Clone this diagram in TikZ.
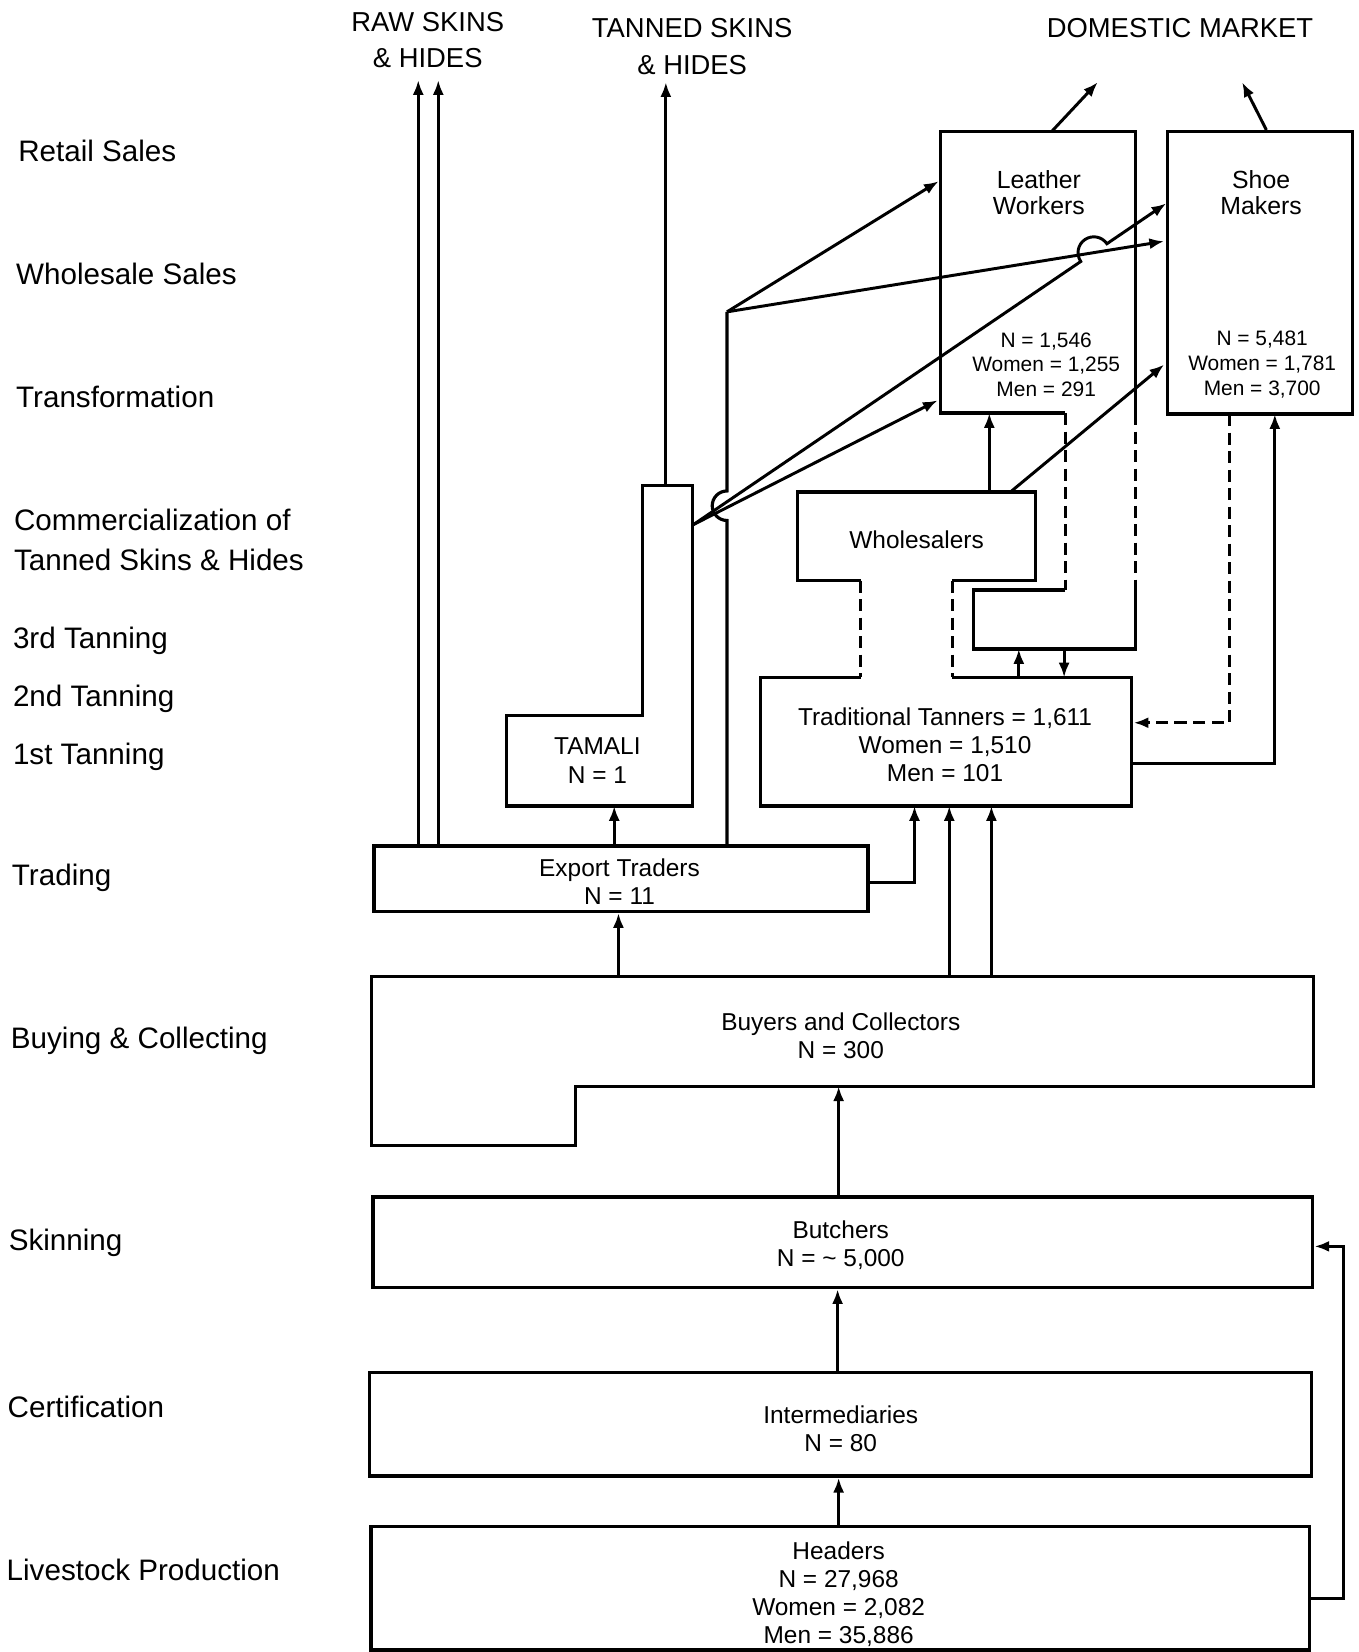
\documentclass[tikz,border=0pt]{standalone}
\usepackage{fontspec}
\setmainfont{Liberation Sans}
\usetikzlibrary{arrows.meta,fit,calc}
\begin{document}
\begin{tikzpicture}[x=0.02cm,y=-0.02cm,
  box/.style={draw, line width=1.8pt, inner sep=0pt},
  ln/.style={line width=1.7pt},
  arr/.style={line width=1.6pt, -{Latex[length=8pt,width=6pt]}},
  dsh/.style={line width=1.6pt, dash pattern=on 6.5pt off 3.5pt},
  lab/.style={anchor=west, font=\fontsize{16}{19}\selectfont, inner sep=0pt},
  toplab/.style={align=center, font=\fontsize{14.8}{19.8}\selectfont, inner sep=0pt},
  txt/.style={align=center, font=\fontsize{13.2}{15.3}\selectfont, inner sep=0pt},
  sm/.style={align=center, font=\fontsize{11.3}{13.3}\selectfont, inner sep=0pt}]
\useasboundingbox (0,0) rectangle (1289,1568);

% ---------- stage labels ----------
\node[lab] (s1) at (17,143) {Retail Sales};
\node[lab] (s2) at (15,260) {Wholesale Sales};
\node[lab] (s3) at (15,377) {Transformation};
\node[lab] (s4) at (13,493) {Commercialization of};
\node[lab] (s5) at (13,531) {Tanned Skins \& Hides};
\node[lab] (s6) at (12,608) {3rd Tanning};
\node[lab] (s7) at (12,663) {2nd Tanning};
\node[lab] (s8) at (12,718) {1st Tanning};
\node[lab] (s9) at (11,833) {Trading};
\node[lab] (s10) at (10,988) {Buying \& Collecting};
\node[lab] (s11) at (8,1180) {Skinning};
\node[lab] (s12) at (7,1335) {Certification};
\node[lab] (s13) at (6,1490) {Livestock Production};

% ---------- top labels ----------
\node[toplab] (rawlab) at (406,38) {RAW SKINS\\\& HIDES};
\node[toplab] (tanlab) at (657,44) {TANNED SKINS\\\& HIDES};
\node[toplab] (domlab) at (1120,27) {DOMESTIC MARKET};
\coordinate (raw1) at (397,76);
\coordinate (raw2) at (416,76);
\coordinate (tan1) at (632,78);
\coordinate (dom1) at (1042,78);
\coordinate (dom2) at (1179,78);

% ---------- Leather Workers (with dashed extension) ----------
\draw[ln] (1011,392) -- (893,392) -- (893,125) -- (1078,125) -- (1078,392);
\draw[dsh] (1078,392) -- (1078,560);
\draw[dsh] (1011,392) -- (1011,560);
\draw[ln] (1011,560) -- (924,560) -- (924,616) -- (1078,616) -- (1078,560);
\node[font=\fontsize{13.4}{14.2}\selectfont, align=center, inner sep=0pt] (lwt) at (986,183) {Leather\\Workers};
\node[sm] (lwn) at (993,346) {N = 1,546\\Women = 1,255\\Men = 291};

% ---------- Shoe Makers ----------
\node[box, fit={(1108,125)(1284,393)}] (shoe) {};
\node[font=\fontsize{13.4}{14.2}\selectfont, align=center, inner sep=0pt] (sht) at (1197,183) {Shoe\\Makers};
\node[sm] (shn) at (1198,346) {N = 5,481\\Women = 1,781\\Men = 3,700};

% ---------- Wholesalers + Traditional Tanners ----------
\draw[ln] (817,551) -- (757,551) -- (757,467) -- (983,467) -- (983,551) -- (904,551);
\draw[dsh] (904,551) -- (904,643);
\draw[dsh] (817,551) -- (817,643);
\draw[ln] (904,643) -- (1074,643) -- (1074,765) -- (722,765) -- (722,643) -- (817,643);
\node[txt] (whol) at (870,512) {Wholesalers};
\node[txt] (trad) at (897,707) {Traditional Tanners = 1,611\\Women = 1,510\\Men = 101};

% ---------- TAMALI ----------
\draw[ln] (481,679) -- (610,679) -- (610,461) -- (657,461) -- (657,765) -- (481,765) -- cycle;
\node[txt] (tam) at (567,722) {TAMALI\\N = 1};

% ---------- Export Traders ----------
\node[box, fit={(355,803)(824,865)}] (exp) {};
\node[txt] (expt) at (588,837) {Export Traders\\N = 11};

% ---------- Buyers and Collectors ----------
\draw[ln] (353,927) -- (1247,927) -- (1247,1031) -- (546,1031) -- (546,1087) -- (353,1087) -- cycle;
\node[txt] (buyt) at (798,983) {Buyers and Collectors\\N = 300};

% ---------- Butchers, Intermediaries, Headers ----------
\node[box, fit={(354,1136)(1246,1222)}] (butch) {};
\node[txt] (butt) at (798,1182) {Butchers\\N = \textasciitilde\ 5,000};
\node[box, fit={(351,1303)(1245,1401)}] (inter) {};
\node[txt] (intt) at (798,1356) {Intermediaries\\N = 80};
\node[box, fit={(352,1449)(1243,1566)}] (head) {};
\node[font=\fontsize{13.2}{15}\selectfont, align=center, inner sep=0pt] (headt) at (796,1513) {Headers\\N = 27,968\\Women = 2,082\\Men = 35,886};

% ---------- connectors ----------
% raw skins and tanned skins exports
\draw[arr] (exp.north -| raw1) -- (raw1);
\draw[arr] (exp.north -| raw2) -- (raw2);
\draw[arr] (632,461) -- (tan1);
% domestic market
\draw[arr] (998,125) -- (dom1);
\draw[arr] (shoe.north -| 1202,0) -- (dom2);

% export traders -> TAMALI
\draw[arr] (exp.north -| 583,0) -- (583,765);
% export traders -> leather workers / shoe makers (with hop)
\coordinate (J) at (690,296);
\draw[ln] (exp.north -| J) -- (690,494) arc[start angle=270, end angle=90, radius=0.28cm] -- (J);
\draw[arr] (J) -- (891,172);
\draw[arr] (J) -- (1105,229);

% TAMALI -> leather workers / shoe makers
\coordinate (T) at (658,498);
\draw[arr] (T) -- (890,380);
\draw[arr] (T) -- (1025.8,248.2) arc[start angle=214.2, end angle=34.2, radius=0.3cm] -- (1107,193);

% wholesalers -> leather workers / shoe makers
\draw[arr] (939,467) -- (939,392);
\draw[arr] (959,467) -- (1105,346);

% tanners <-> leather workers
\draw[arr] (967,643) -- (967,616);
\draw[arr] (1010,616) -- (1010,643);

% shoe makers <-> tanners
\draw[dsh, -{Latex[length=8pt,width=6pt]}] (1167,393) -- (1167,686) -- (1076,686);
\draw[arr] (1074,725) -- (1210,725) -- (1210,393);

% export traders -> tanners
\draw[arr] (824,838) -- (868,838) -- (868,765);
% buyers -> tanners / export traders
\draw[arr] (901,927) -- (901,765);
\draw[arr] (941,927) -- (941,765);
\draw[arr] (587,927) -- (exp.south -| 587,0);
% lower chain
\draw[arr] (butch.north -| 796,0) -- (796,1031);
\draw[arr] (inter.north -| 795,0) -- (butch.south -| 795,0);
\draw[arr] (head.north -| 796,0) -- (inter.south -| 796,0);
% headers -> butchers
\draw[arr] (head.east |- 0,1517) -- (1275,1517) -- (1275,1183) -- (butch.east |- 0,1183);
\end{tikzpicture}
\end{document}
